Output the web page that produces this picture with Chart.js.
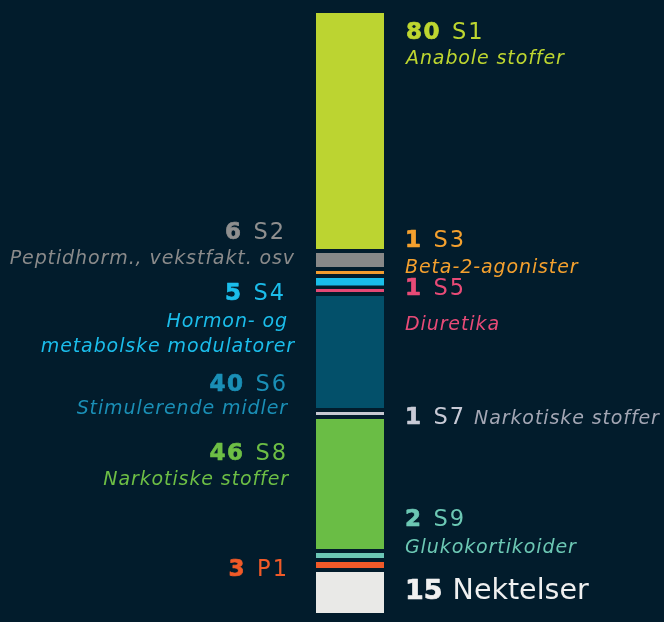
<!DOCTYPE html>
<html>
<head>
<meta charset="utf-8">
<script src="https://cdn.jsdelivr.net/npm/chart.js@4/dist/chart.umd.min.js"></script>
<style>
  html, body { margin: 0; padding: 0; background: #021C2C; overflow: hidden; }
  #wrap { width: 664px; height: 622px; position: relative; }
</style>
</head>
<body>
<div id="wrap"><canvas id="c" width="664" height="622"></canvas></div>
<script>
// Doping cases by substance class, stacked top to bottom
const codes = ['S1', 'S2', 'S3', 'S4', 'S5', 'S6', 'S7', 'S8', 'S9', 'P1', 'Nektelser'];
const counts = [80, 6, 1, 5, 1, 40, 1, 46, 2, 3, 15];
const descriptions = [
  ['Anabole stoffer'],
  ['Peptidhorm., vekstfakt. osv'],
  ['Beta-2-agonister'],
  ['Hormon- og', 'metabolske modulatorer'],
  ['Diuretika'],
  ['Stimulerende midler'],
  ['Narkotiske stoffer'],
  ['Narkotiske stoffer'],
  ['Glukokortikoider'],
  [],
  []
];

const BG = '#021C2C';
const TEXT_FONT = '"DejaVu Sans", "Open Sans", sans-serif';

const barColors = ['#BCD431', '#888888', '#F39C2F', '#19BDEA', '#E54975', '#03506A',
                   '#C6C8D2', '#6ABD45', '#6CC6B6', '#F15A29', '#E9E9E7'];
const numColors = ['#BED630', '#8F8F8F', '#F4A02E', '#1BBDEB', '#E84B77', '#1A8FB6',
                   '#C8CAD6', '#6DBE45', '#6CC8B4', '#F05A28', '#F0F0F0'];
const subColors = ['#BED630', '#8A8A8A', '#F4A02E', '#1BBDEB', '#E84B77', '#1A8FB6',
                   '#A3A6B4', '#6DBE45', '#6CC8B4', '#F05A28', '#F0F0F0'];

// dark separators carved out of the segment edges [top, bottom]
const separators = [[0, 4], [0, 4], [0, 0], [4, 3.5], [0, 0], [4, 4], [0, 0], [4, 4], [0, 1], [3, 0], [4, 0]];

// label placement: side, anchor x, baselines of the title and each description line
const labelLayout = [
  { side: 'R', x: 406, title: 38.5, subs: [63.5] },
  { side: 'L', x: 286, title: 238.5, subs: [263.5], subX: [295] },
  { side: 'R', x: 405, title: 246.5, subs: [272.5] },
  { side: 'L', x: 286, title: 300, subs: [326.5, 351.5], subX: [288, 295] },
  { side: 'R', x: 405, title: 295, subs: [329.5] },
  { side: 'L', x: 288, title: 390.5, subs: [413.5], subX: [288] },
  { side: 'R', x: 405, title: 423.5, inline: true },
  { side: 'L', x: 288, title: 460, subs: [485], subX: [289] },
  { side: 'R', x: 405, title: 526, subs: [552.5] },
  { side: 'L', x: 289, title: 576 },
  { side: 'R', x: 405, title: 598.5, big: true }
];

function setNum(ctx, big) {
  ctx.font = `700 ${big ? 27 : 23}px ${TEXT_FONT}`;
  ctx.letterSpacing = big ? '0px' : '1.5px';
}
function setCode(ctx, big) {
  ctx.font = `400 ${big ? 28.5 : 22.5}px ${TEXT_FONT}`;
  ctx.letterSpacing = big ? '0px' : '2px';
}

const labelPlugin = {
  id: 'segmentLabels',
  afterDatasetsDraw(chart) {
    const ctx = chart.ctx;
    ctx.save();
    ctx.textBaseline = 'alphabetic';
    ctx.lineJoin = 'round';
    counts.forEach((v, i) => {
      const L = labelLayout[i];
      const big = !!L.big;
      const gap = big ? 10 : 11;
      const num = String(v);
      const code = codes[i];
      setNum(ctx, big);
      const wn = ctx.measureText(num).width;
      setCode(ctx, big);
      const wc = ctx.measureText(code).width;
      const xNum = L.side === 'R' ? L.x : L.x - wc - gap - wn;
      const xCode = xNum + wn + gap;
      ctx.textAlign = 'left';
      ctx.fillStyle = numColors[i];
      ctx.strokeStyle = numColors[i];
      ctx.lineWidth = 0.7;
      setNum(ctx, big);
      ctx.fillText(num, xNum, L.title);
      ctx.strokeText(num, xNum, L.title);
      setCode(ctx, big);
      ctx.fillText(code, xCode, L.title);

      ctx.font = `italic 400 19px ${TEXT_FONT}`;
      ctx.letterSpacing = '0.9px';
      ctx.fillStyle = subColors[i];
      if (L.inline) {
        ctx.fillText(descriptions[i][0], xCode + wc + 8, L.title);
      } else if (L.subs) {
        descriptions[i].forEach((line, j) => {
          if (L.side === 'R') {
            ctx.textAlign = 'left';
            ctx.fillText(line, L.x, L.subs[j]);
          } else {
            ctx.textAlign = 'right';
            ctx.fillText(line, L.subX[j], L.subs[j]);
          }
        });
      }
    });
    ctx.restore();
  }
};

new Chart(document.getElementById('c'), {
  type: 'bar',
  data: {
    labels: [''],
    datasets: codes.map((c, i) => ({
      label: c,
      data: [counts[i]],
      backgroundColor: barColors[i],
      borderColor: BG,
      borderWidth: { top: separators[i][0], bottom: separators[i][1], left: 0, right: 0 },
      borderSkipped: false,
      inflateAmount: 0,
      barPercentage: 1,
      categoryPercentage: 1
    }))
  },
  options: {
    responsive: false,
    animation: false,
    devicePixelRatio: 1,
    layout: { padding: { left: 316, right: 280, top: 13, bottom: 0 } },
    plugins: { legend: { display: false }, tooltip: { enabled: false } },
    scales: {
      x: { display: false, stacked: true },
      y: { display: false, stacked: true, reverse: true, min: 0, max: 203 }
    }
  },
  plugins: [labelPlugin]
});
</script>
</body>
</html>
